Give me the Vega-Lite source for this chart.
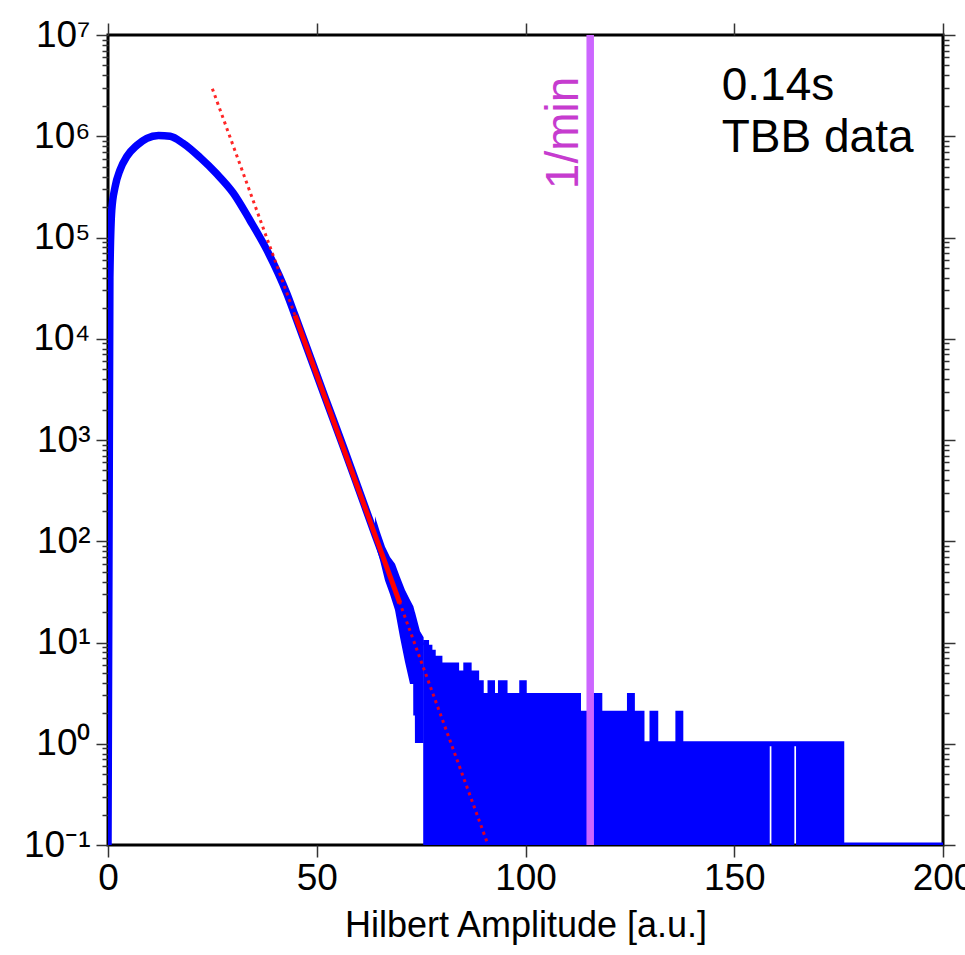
{
  "$schema": "https://vega.github.io/schema/vega-lite/v6.json",
  "width": 835,
  "height": 810,
  "autosize": {"type": "none"},
  "padding": {"left": 108, "top": 35, "right": 22, "bottom": 110},
  "background": "white",
  "datasets": {
    "curve": [
      {"amp": 0, "count": 0.1},
      {"amp": 0.45, "count": 40000},
      {"amp": 0.9, "count": 186000},
      {"amp": 1.7, "count": 316000},
      {"amp": 2.9, "count": 468000},
      {"amp": 4.5, "count": 631000},
      {"amp": 6.9, "count": 813000},
      {"amp": 9.3, "count": 955000},
      {"amp": 12.1, "count": 1020000},
      {"amp": 14.9, "count": 1000000},
      {"amp": 18.0, "count": 850000},
      {"amp": 22.0, "count": 620000},
      {"amp": 26.0, "count": 427000},
      {"amp": 30.0, "count": 275000},
      {"amp": 34.0, "count": 148000},
      {"amp": 38.0, "count": 75900},
      {"amp": 42.8, "count": 28200},
      {"amp": 44.8, "count": 17000},
      {"amp": 52.0, "count": 2630},
      {"amp": 56.4, "count": 850},
      {"amp": 60.0, "count": 330},
      {"amp": 64.0, "count": 115},
      {"amp": 68.0, "count": 41},
      {"amp": 70.0, "count": 24}
    ],
    "band": [
      {"amp": 63.95, "hi": 177, "lo": 96},
      {"amp": 65.15, "hi": 123, "lo": 65},
      {"amp": 66.35, "hi": 88, "lo": 41},
      {"amp": 67.54, "hi": 70, "lo": 30},
      {"amp": 68.74, "hi": 60, "lo": 21},
      {"amp": 69.94, "hi": 44, "lo": 11.3},
      {"amp": 71.14, "hi": 33, "lo": 6.4},
      {"amp": 72.34, "hi": 26.3, "lo": 3.9},
      {"amp": 73.1, "hi": 22.9, "lo": 3.9},
      {"amp": 73.12, "hi": 22.9, "lo": 1.9},
      {"amp": 73.5, "hi": 20.0, "lo": 1.9},
      {"amp": 73.52, "hi": 20.0, "lo": 1.02},
      {"amp": 74.73, "hi": 12.9, "lo": 1.02},
      {"amp": 75.6, "hi": 11.3, "lo": 1.02}
    ],
    "tail": [
      {"from": 75.5, "count": 10, "run": "a"},
      {"from": 76.3, "count": 9, "run": "a"},
      {"from": 77.1, "count": 8, "run": "a"},
      {"from": 77.9, "count": 7, "run": "a"},
      {"from": 79.5, "count": 6, "run": "a"},
      {"from": 83.5, "count": 5, "run": "a"},
      {"from": 85.7, "count": 6, "run": "a"},
      {"from": 86.5, "count": 5, "run": "a"},
      {"from": 88.3, "count": 3, "run": "a"},
      {"from": 88.9, "count": 4, "run": "a"},
      {"from": 89.4, "count": 3, "run": "a"},
      {"from": 91.5, "count": 4, "run": "a"},
      {"from": 92.1, "count": 3, "run": "a"},
      {"from": 94.0, "count": 4, "run": "a"},
      {"from": 95.1, "count": 3, "run": "a"},
      {"from": 99.1, "count": 4, "run": "a"},
      {"from": 99.7, "count": 3, "run": "a"},
      {"from": 110.7, "count": 2, "run": "a"},
      {"from": 111.9, "count": 3, "run": "a"},
      {"from": 112.7, "count": 2, "run": "a"},
      {"from": 115.8, "count": 3, "run": "a"},
      {"from": 117.8, "count": 2, "run": "a"},
      {"from": 124.9, "count": 3, "run": "a"},
      {"from": 125.6, "count": 2, "run": "a"},
      {"from": 127.9, "count": 1, "run": "a"},
      {"from": 130.3, "count": 2, "run": "a"},
      {"from": 131.2, "count": 1, "run": "a"},
      {"from": 136.5, "count": 2, "run": "a"},
      {"from": 137.2, "count": 1, "run": "a"},
      {"from": 158.5, "count": 1, "run": "a"},
      {"from": 158.9, "count": 1, "run": "b"},
      {"from": 164.4, "count": 1, "run": "b"},
      {"from": 164.8, "count": 1, "run": "c"},
      {"from": 175.7, "count": 1, "run": "c"},
      {"from": 175.75, "count": 0.1, "run": "d"},
      {"from": 200, "count": 0.1, "run": "d"}
    ],
    "fit": [
      {"amp": 25.0, "count": 2950000, "range": "extrapolated"},
      {"amp": 91.0, "count": 0.101, "range": "extrapolated"},
      {"amp": 44.8, "count": 17000, "range": "fitted"},
      {"amp": 69.9, "count": 24.5, "range": "fitted"}
    ],
    "rate": [
      {"amp": 115.5}
    ],
    "rateLabel": [
      {"amp": 112.6, "count": 300000, "label": "1/min"}
    ],
    "caption": [
      {"amp": 147, "count": 2280000, "label": "0.14s"},
      {"amp": 147, "count": 698000, "label": "TBB data"}
    ]
  },
  "layer": [
    {
      "data": {"name": "curve"},
      "mark": {"type": "line", "color": "#0000ff", "strokeWidth": 7.5, "strokeJoin": "round", "interpolate": "monotone", "clip": true},
      "encoding": {
        "x": {
          "field": "amp", "type": "quantitative",
          "scale": {"domain": [0, 200], "nice": false},
          "axis": {
            "orient": "bottom", "values": [0, 50, 100, 150, 200],
            "title": "Hilbert Amplitude [a.u.]", "titleFontSize": 36, "titlePadding": 12,
            "labelFontSize": 37, "labelPadding": 3, "tickSize": 12
          }
        },
        "y": {
          "field": "count", "type": "quantitative",
          "scale": {"type": "log", "domain": [0.1, 10000000], "nice": false},
          "axis": {
            "orient": "left", "title": null,
            "values": [0.1, 1, 10, 100, 1000, 10000, 100000, 1000000, 10000000],
            "labelExpr": "'10' + ['⁻¹','⁰','¹','²','³','⁴','⁵','⁶','⁷'][round(log(datum.value)/LN10) + 1]",
            "labelFontSize": 37, "labelPadding": 6, "tickSize": 12
          }
        }
      }
    },
    {
      "data": {"name": "band"},
      "mark": {"type": "area", "color": "#0000ff", "clip": true},
      "encoding": {
        "x": {
          "field": "amp", "type": "quantitative",
          "axis": {"orient": "top", "values": [0, 50, 100, 150, 200], "labels": false, "title": null, "tickSize": 12}
        },
        "y": {
          "field": "hi", "type": "quantitative",
          "axis": {
            "orient": "right", "title": null, "labels": false,
            "values": [0.1, 1, 10, 100, 1000, 10000, 100000, 1000000, 10000000],
            "tickSize": 12
          }
        },
        "y2": {"field": "lo"}
      }
    },
    {
      "data": {"name": "tail"},
      "mark": {"type": "area", "color": "#0000ff", "interpolate": "step-after", "clip": true},
      "encoding": {
        "x": {"field": "from", "type": "quantitative", "axis": null},
        "y": {
          "field": "count", "type": "quantitative",
          "axis": {
            "orient": "left", "title": null, "labels": false,
            "values": [0.2, 0.3, 0.4, 0.5, 0.6, 0.7, 0.8, 0.9, 2, 3, 4, 5, 6, 7, 8, 9, 20, 30, 40, 50, 60, 70, 80, 90, 200, 300, 400, 500, 600, 700, 800, 900, 2000, 3000, 4000, 5000, 6000, 7000, 8000, 9000, 20000, 30000, 40000, 50000, 60000, 70000, 80000, 90000, 200000, 300000, 400000, 500000, 600000, 700000, 800000, 900000, 2000000, 3000000, 4000000, 5000000, 6000000, 7000000, 8000000, 9000000],
            "tickSize": 6
          }
        },
        "y2": {"datum": 0.1},
        "detail": {"field": "run"}
      }
    },
    {
      "data": {"name": "tail"},
      "mark": {"type": "line", "color": "#0000ff", "strokeWidth": 5, "interpolate": "step-after", "clip": true},
      "encoding": {
        "x": {"field": "from", "type": "quantitative", "axis": null},
        "y": {
          "field": "count", "type": "quantitative",
          "axis": {
            "orient": "right", "title": null, "labels": false,
            "values": [0.2, 0.3, 0.4, 0.5, 0.6, 0.7, 0.8, 0.9, 2, 3, 4, 5, 6, 7, 8, 9, 20, 30, 40, 50, 60, 70, 80, 90, 200, 300, 400, 500, 600, 700, 800, 900, 2000, 3000, 4000, 5000, 6000, 7000, 8000, 9000, 20000, 30000, 40000, 50000, 60000, 70000, 80000, 90000, 200000, 300000, 400000, 500000, 600000, 700000, 800000, 900000, 2000000, 3000000, 4000000, 5000000, 6000000, 7000000, 8000000, 9000000],
            "tickSize": 6
          }
        }
      }
    },
    {
      "data": {"name": "fit"},
      "transform": [{"filter": "datum.range === 'extrapolated'"}],
      "mark": {"type": "line", "color": "#ff0000", "opacity": 0.85, "strokeWidth": 3, "strokeDash": [3, 4], "clip": true},
      "encoding": {
        "x": {"field": "amp", "type": "quantitative", "axis": null},
        "y": {"field": "count", "type": "quantitative", "axis": null}
      }
    },
    {
      "data": {"name": "fit"},
      "transform": [{"filter": "datum.range === 'fitted'"}],
      "mark": {"type": "line", "color": "#ff0000", "strokeWidth": 5, "clip": true},
      "encoding": {
        "x": {"field": "amp", "type": "quantitative", "axis": null},
        "y": {"field": "count", "type": "quantitative", "axis": null}
      }
    },
    {
      "data": {"name": "rate"},
      "mark": {"type": "rule", "color": "#cc66ff", "strokeWidth": 7.5},
      "encoding": {
        "x": {"field": "amp", "type": "quantitative", "axis": null}
      }
    },
    {
      "data": {"name": "rateLabel"},
      "mark": {"type": "text", "color": "#c63ccf", "font": "Liberation Sans", "fontSize": 46, "angle": 270, "align": "left", "baseline": "alphabetic"},
      "encoding": {
        "x": {"field": "amp", "type": "quantitative", "axis": null},
        "y": {"field": "count", "type": "quantitative", "axis": null},
        "text": {"field": "label"}
      }
    },
    {
      "data": {"name": "caption"},
      "mark": {"type": "text", "color": "black", "font": "Liberation Sans", "fontSize": 46, "align": "left", "baseline": "alphabetic"},
      "encoding": {
        "x": {"field": "amp", "type": "quantitative", "axis": null},
        "y": {"field": "count", "type": "quantitative", "axis": null},
        "text": {"field": "label"}
      }
    }
  ],
  "resolve": {"axis": {"x": "independent", "y": "independent"}},
  "config": {
    "view": {"stroke": "black", "strokeWidth": 3},
    "font": "Liberation Sans",
    "axis": {
      "labelFont": "Liberation Sans",
      "titleFont": "Liberation Sans",
      "labelColor": "black",
      "titleColor": "black",
      "titleFontWeight": "normal",
      "grid": false,
      "domain": false,
      "tickColor": "#333333",
      "tickWidth": 1.5,
      "labelOverlap": false,
      "labelFlush": false,
      "labelBound": false
    }
  }
}
